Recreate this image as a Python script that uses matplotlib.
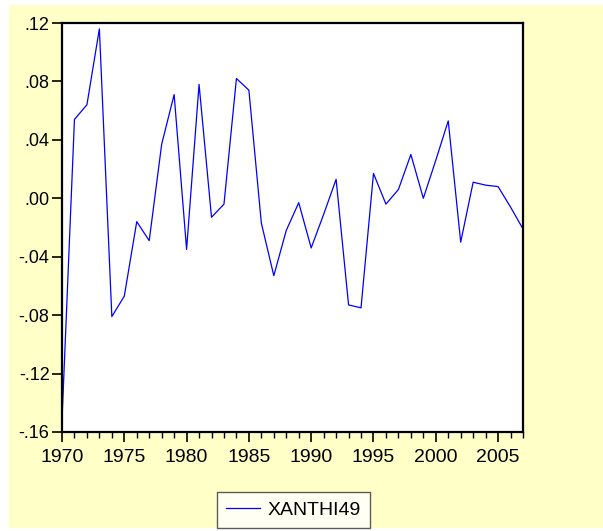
import matplotlib
matplotlib.use('Agg')
import matplotlib.pyplot as plt
from matplotlib.patches import Rectangle
from matplotlib.ticker import MultipleLocator, FuncFormatter

years = list(range(1970, 2008))
xanthi49 = [-0.152, 0.054, 0.064, 0.116, -0.081, -0.067, -0.016, -0.029,
            0.037, 0.071, -0.035, 0.078, -0.013, -0.004, 0.082, 0.074,
            -0.017, -0.053, -0.022, -0.003, -0.034, -0.011, 0.013, -0.073,
            -0.075, 0.017, -0.004, 0.006, 0.030, 0.000, 0.026, 0.053,
            -0.030, 0.011, 0.009, 0.008, -0.006, -0.021]
series_name = 'XANTHI49'
y_ticks = [0.12, 0.08, 0.04, 0.00, -0.04, -0.08, -0.12, -0.16]
x_ticks = [1970, 1975, 1980, 1985, 1990, 1995, 2000, 2005]

plt.rcParams['font.family'] = ['Liberation Sans', 'DejaVu Sans']

W, H = 603, 531
fig = plt.figure(figsize=(W / 100, H / 100), dpi=100, facecolor='white')

# pale yellow frame like EViews
fig.patches.append(Rectangle((9 / W, 1 - 528 / H), (W - 9) / W, 523 / H,
                             transform=fig.transFigure, facecolor='#FFFFC8',
                             edgecolor='none', zorder=-5))

ax = fig.add_axes([62 / W, 1 - 432 / H, 461 / W, 409 / H])
ax.set_zorder(2)
ax.set_facecolor('white')
ax.plot(years, xanthi49, color='#0000FF', lw=0.9, label=series_name)

ax.set_xlim(1970, 2007)
ax.set_ylim(-0.16, 0.12)
ax.set_xticks(x_ticks)
ax.xaxis.set_minor_locator(MultipleLocator(1))
ax.set_yticks(y_ticks)


def fmt(v, pos):
    s = f'{v:.2f}'
    return s.replace('0.', '.')


ax.yaxis.set_major_formatter(FuncFormatter(fmt))
ax.tick_params(axis='both', which='major', direction='out', length=7,
               width=1.2, labelsize=13, pad=2, colors='black')
ax.tick_params(axis='x', which='major', labelsize=14, pad=5)
ax.tick_params(axis='x', which='minor', direction='out', length=4, width=1.0)
for sp in ax.spines.values():
    sp.set_linewidth(1.6)
    sp.set_color('black')

leg = fig.legend(loc='center', bbox_to_anchor=(293.5 / W, 1 - 510 / H),
                 fontsize=14, frameon=True, fancybox=False,
                 edgecolor='#333333', handlelength=1.75,
                 borderpad=0.45, handletextpad=0.4)
leg.get_frame().set_linewidth(1.0)
leg.set_zorder(3)

fig.savefig('out.png', dpi=100, facecolor='white')
